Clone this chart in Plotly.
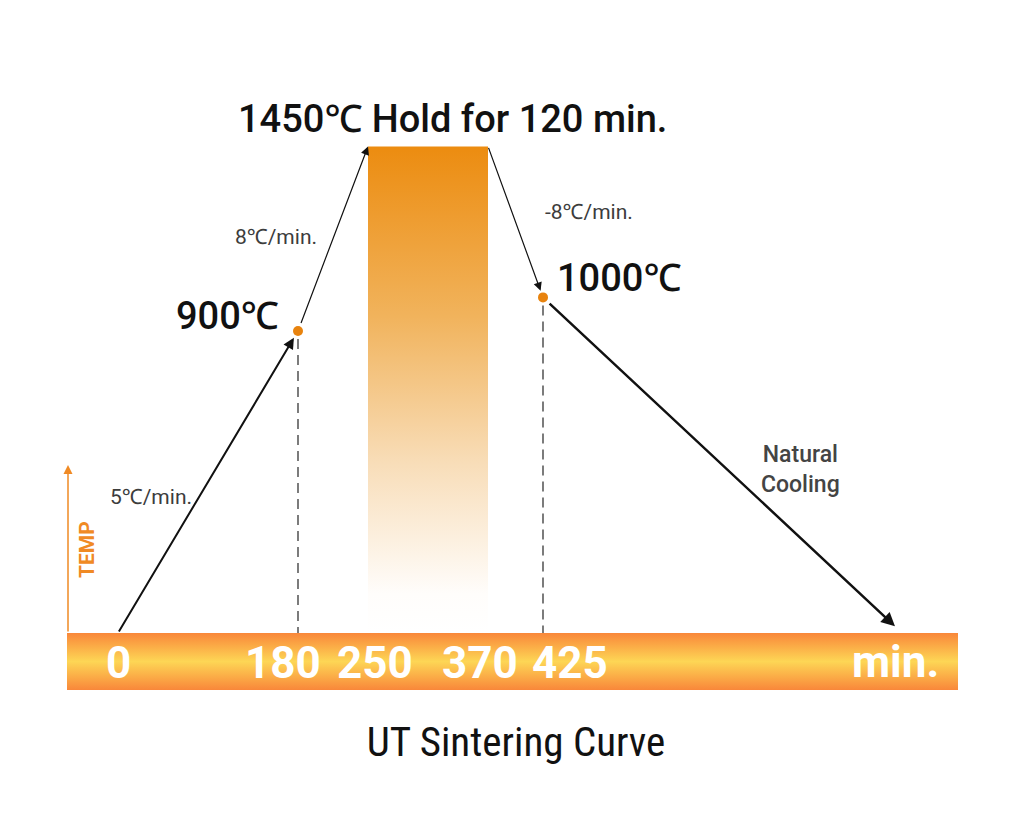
import plotly.graph_objects as go

# ---------------- data ----------------
stage_times = [0, 180, 250, 370, 425]          # min
stage_temps = [0, 900, 1450, 1450, 1000]       # °C
rate_labels = ["5℃/min.", "8℃/min.", "-8℃/min."]
hold_label = "1450℃ Hold for 120 min."
point_labels = ["900℃", "1000℃"]
cool_end_time = 777
cool_end_temp = 20
cool_label = "Natural<br>Cooling"
tick_values = [0, 180, 250, 370, 425]
tick_labels = ["0", "180", "250", "370", "425"]
axis_unit = "min."
axis_title = "TEMP"
chart_title = "UT Sintering Curve"

# ---------------- layout scale ----------------
W, H = 1024, 818
OFF = 8                      # page body margin
X0_PX, PX_PER_MIN = 118 - OFF, 1.0
Y0_PX, PX_PER_DEG = 633 - OFF, 0.3356
xr = [-X0_PX / PX_PER_MIN, (W - X0_PX) / PX_PER_MIN]
yr = [-(H - Y0_PX) / PX_PER_DEG, Y0_PX / PX_PER_DEG]

def dx(px):  # pixel distance -> minutes
    return px / PX_PER_MIN

def dy(px):  # pixel distance -> degrees
    return px / PX_PER_DEG

ORANGE_DOT = "#E8830E"
GRAY = "#3c3c3c"
FAM = "Roboto, Noto Sans, sans-serif"
BIG = dict(family=FAM, size=38, color="#111111", weight=500)
SMALL = dict(family=FAM, size=21, color=GRAY)

fig = go.Figure()

# time axis band (gradient bar)
bx0, bx1 = -dx(51), dx(840)
by0, by1 = 0, -dy(57)
fig.add_trace(go.Scatter(
    x=[bx0, bx1, bx1, bx0, bx0], y=[by0, by0, by1, by1, by0],
    mode="lines", fill="toself", line=dict(width=0),
    fillgradient=dict(type="vertical",
                      colorscale=[[0, "#F9873A"], [0.5, "#FDD655"], [1, "#F9873A"]]),
    hoverinfo="skip", showlegend=False))

# hold block gradient
h0, h1 = stage_times[2], stage_times[3]
fig.add_trace(go.Scatter(
    x=[h0, h1, h1, h0, h0], y=[0, 0, stage_temps[2], stage_temps[3], 0],
    mode="lines", fill="toself", line=dict(width=0),
    fillgradient=dict(type="vertical",
                      colorscale=[[0, "#FFFFFF"], [0.08, "#FFFDFB"], [0.35, "#F8DDB8"],
                                  [0.65, "#F1B35C"], [1, "#EC8C10"]]),
    hoverinfo="skip", showlegend=False))

# dashed drop lines
for t, T in [(stage_times[1], stage_temps[1]), (stage_times[4], stage_temps[4])]:
    fig.add_trace(go.Scatter(x=[t, t], y=[T - dy(8), 0], mode="lines",
                             line=dict(color="#111111", width=1.1, dash="10px,6px"),
                             hoverinfo="skip", showlegend=False))

# dots
fig.add_trace(go.Scatter(x=[stage_times[1], stage_times[4]], y=[stage_temps[1], stage_temps[4]],
                         mode="markers", marker=dict(color=ORANGE_DOT, size=10),
                         hoverinfo="skip", showlegend=False))

anns = []
def arrow(t0, T0, t1, T1, width, size, head=2, standoff=0, startstandoff=0, color="#111111"):
    anns.append(dict(x=t1, y=T1, ax=t0, ay=T0, xref="x", yref="y", axref="x", ayref="y",
                     showarrow=True, arrowhead=head, arrowsize=size, arrowwidth=width,
                     arrowcolor=color, standoff=standoff, startstandoff=startstandoff, text=""))

arrow(stage_times[0], stage_temps[0], stage_times[1], stage_temps[1], 2, 1.1, standoff=8)
arrow(stage_times[1], stage_temps[1], stage_times[2], stage_temps[2], 1.2, 1.4, startstandoff=7)
arrow(stage_times[3], stage_temps[3], stage_times[4], stage_temps[4], 1.2, 1.4, standoff=7)
arrow(stage_times[4], stage_temps[4], cool_end_time, cool_end_temp, 2.5, 1.1, startstandoff=7)
# TEMP axis arrow
arrow(-dx(50), 0, -dx(50), dy(168), 1.5, 1.2, color="#F08A24")

# texts
anns.append(dict(x=(h0 + h1) / 2, y=stage_temps[2], xref="x", yref="y", text=hold_label,
                 showarrow=False, xshift=24, yshift=27, font=BIG))
anns.append(dict(x=stage_times[1], y=stage_temps[1], xref="x", yref="y", text=point_labels[0],
                 showarrow=False, xanchor="right", xshift=-17, yshift=15, font=BIG))
anns.append(dict(x=stage_times[4], y=stage_temps[4], xref="x", yref="y", text=point_labels[1],
                 showarrow=False, xanchor="left", xshift=12, yshift=19, font=BIG))

mid = lambda a, b: (a + b) / 2
anns.append(dict(x=mid(stage_times[0], stage_times[1]), y=mid(stage_temps[0], stage_temps[1]),
                 xref="x", yref="y", text=rate_labels[0], showarrow=False,
                 xanchor="right", xshift=-14, yshift=-15, font=SMALL))
anns.append(dict(x=mid(stage_times[1], stage_times[2]), y=mid(stage_temps[1], stage_temps[2]),
                 xref="x", yref="y", text=rate_labels[1], showarrow=False,
                 xanchor="right", xshift=-14, yshift=2, font=SMALL))
anns.append(dict(x=mid(stage_times[3], stage_times[4]), y=mid(stage_temps[3], stage_temps[4]),
                 xref="x", yref="y", text=rate_labels[2], showarrow=False,
                 xanchor="left", xshift=27, yshift=10, font=SMALL))
anns.append(dict(x=mid(stage_times[4], cool_end_time), y=mid(stage_temps[4], cool_end_temp),
                 xref="x", yref="y", text=cool_label, showarrow=False,
                 xanchor="left", xshift=40, yshift=-8, align="center",
                 font=dict(family=FAM, size=23, color="#444444", weight=500)))

anns.append(dict(x=-dx(50), y=dy(83), xref="x", yref="y", text=axis_title, showarrow=False,
                 textangle=-90, xshift=19,
                 font=dict(family=FAM, size=21, color="#F08A24", weight=700)))

# tick labels on the band
tick_shift = [0, -15, 7, -8, 27]
TICKF = dict(family=FAM, size=44, color="#FFFFFF", weight=700)
for v, lab, s in zip(tick_values, tick_labels, tick_shift):
    anns.append(dict(x=v, y=mid(by0, by1), xref="x", yref="y", text=lab, showarrow=False,
                     xshift=s, yshift=-1, font=TICKF))
anns.append(dict(x=bx1, y=mid(by0, by1), xref="x", yref="y", text=axis_unit, showarrow=False,
                 xanchor="right", xshift=-17, yshift=0, font=TICKF))

fig.update_layout(
    width=W, height=H, autosize=False,
    margin=dict(l=0, r=0, t=0, b=0),
    paper_bgcolor="white", plot_bgcolor="white",
    xaxis=dict(range=xr, visible=False, fixedrange=True),
    yaxis=dict(range=yr, visible=False, fixedrange=True),
    annotations=anns,
    title=dict(text=chart_title, x=(516 - OFF) / W, xanchor="center",
               y=1 - (742 - OFF) / H, yanchor="middle", yref="container",
               font=dict(family="Liberation Sans Narrow, Roboto Condensed, Roboto, sans-serif",
                         size=41, color="#111111")),
    showlegend=False,
)

fig.write_html("out.html")
